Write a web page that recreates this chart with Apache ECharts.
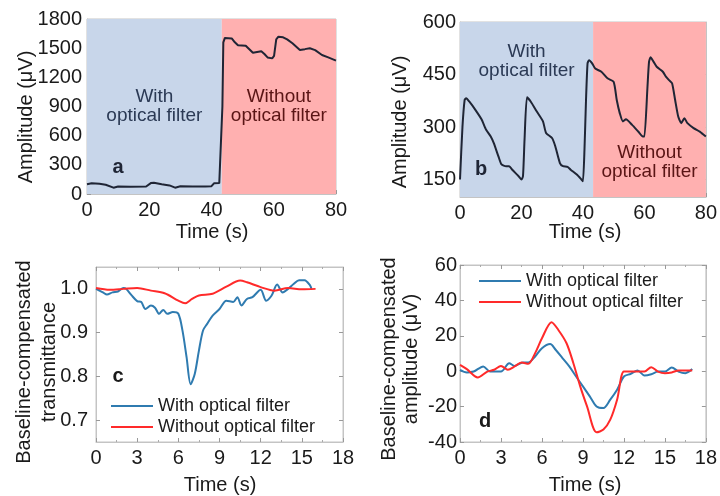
<!DOCTYPE html>
<html><head><meta charset="utf-8">
<script src="https://cdn.jsdelivr.net/npm/echarts@6/dist/echarts.min.js"></script>
<style>html,body{margin:0;padding:0;background:#fff}#c{width:720px;height:496px}</style>
</head><body><div id="c"></div><script>
// ---- data ----
const timeA = [0,1.5,4,6,8.5,10,14,19,20.5,21.5,24,26.5,28.3,30,34,38,40,40.8,42.5,43.1,43.5,43.8,44.3,46.5,47.5,48.5,51,53.3,56,57,58,59.5,60.1,60.8,61.5,63,64.3,66,68.4,70,71.6,73.3,75.5,77.5,80];
const ampA  = [100,110,105,95,65,78,75,77,112,116,100,88,65,79,78,77,80,110,112,120,900,1560,1605,1600,1560,1530,1525,1452,1468,1440,1405,1395,1420,1590,1618,1612,1590,1550,1482,1490,1499,1480,1430,1405,1372];
const timeB = [0,0.8,1.5,2,3,5,7,8.5,10,11,12.5,13.5,15,16,17,19,20,20.5,21,21.8,23,25,27,28,30,31,32.5,33.5,35,36,38,39.5,40,40.5,41,41.5,42,43,44,46,48,50,51,52,53,54,56,58,59.5,60,61,61.5,62,63,64,66,67,68,69,70,71,72,73,74,76,78,80];
const ampB  = [150,300,377,382,373,349,322,292,273,254,216,193,188,188,178,160,150,160,264,385,373,344,316,283,268,245,197,188,186,178,164,150,145,235,377,482,491,482,467,458,439,429,377,339,316,322,306,287,273,273,415,486,499,486,472,458,444,434,425,377,330,311,325,311,297,287,273];
const timeC1 = [0,0.5,0.8,1.2,1.6,2.0,2.2,2.6,3.0,3.3,3.6,4.0,4.3,4.6,4.9,5.2,5.6,6.0,6.3,6.6,6.9,7.2,7.5,7.8,8.1,8.5,9.0,9.5,10.0,10.3,10.6,11.0,11.4,12.0,12.4,12.8,13.2,13.6,14.0,14.4,14.8,15.2,15.6,15.7];
const transC1 = [1.0,0.992,0.987,0.992,0.994,1.002,1.0,0.985,0.972,0.970,0.954,0.962,0.957,0.943,0.952,0.943,0.947,0.943,0.905,0.844,0.782,0.806,0.859,0.905,0.920,0.939,0.954,0.973,0.970,0.981,0.962,0.977,0.981,0.998,0.973,0.985,1.010,0.992,1.0,1.011,1.020,1.020,1.008,1.0];
const timeC2 = [0,1,2,3,4,5,6,6.5,7,7.5,8.5,9.5,10.5,11,12,13,14,15,16];
const transC2 = [1.002,0.998,1.0,1.002,0.996,0.990,0.973,0.967,0.977,0.985,0.989,1.005,1.019,1.015,1.004,0.996,1.002,0.999,1.0];
const timeD1 = [0,0.5,1,1.7,2.2,3.0,3.6,4.0,4.6,5.0,5.5,6.0,6.6,7.0,7.5,8.0,8.5,9.0,9.5,10.0,10.5,11.0,11.5,12.0,12.5,13.0,13.5,14.0,14.5,15.0,15.5,16,16.5,17];
const ampD1 = [0.8,-0.7,-0.2,2.7,-0.2,-0.2,4.5,3.0,4.9,4.9,8.3,13.0,15.3,12.1,7.4,2.7,-3.0,-8.6,-14.2,-19.9,-20.8,-16.1,-10.5,-3.0,-1.5,0.4,-2.4,-1.7,-0.2,-0.2,2.1,-0.2,-1.1,1.2];
const timeD2 = [0,0.5,1.3,2.0,2.5,3.0,3.5,4.0,4.5,5.0,5.5,6.0,6.7,7.2,7.8,8.3,8.8,9.3,10.0,10.5,11.0,11.5,12.0,12.5,13,13.5,14,14.5,15,15.5,16,17];
const ampD2 = [3.6,1.2,-3.5,-0.2,0.8,3.0,0.8,2.7,4.9,4.2,10.2,18.6,27.7,23.3,15.8,4.5,-8.6,-19.9,-34.5,-33.0,-27.4,-16.1,-0.2,-0.2,-0.2,-0.2,2.3,-0.2,-1.1,-0.7,0.4,0.4];
const filterSwitchTime = 43.3;
const ticksB = [150,300,450,600];
const ticksC = [0.7,0.8,0.9,1.0];
const seriesNames = ['With optical filter','Without optical filter'];
const regionWith = 'With\noptical filter';
const regionWithout = 'Without\noptical filter';

const zip = (xs, ys) => xs.map((x, i) => [x, ys[i]]);

// ---- styles ----
const FONT = 'Liberation Sans, Arial, sans-serif';
const TXT = '#1a1a1a';
const FRAME = '#c4c4c4';
const BLUE_BG = '#c8d6ea', RED_BG = '#ffb0b0';
const DARK = '#1f2535', BLUE = '#2f7bb0', RED = '#ff2a2a';
const plain = v => String(Math.round(v * 1000) / 1000);

function xAx(grid, min, max, interval, extra) {
  return Object.assign({
    type: 'value', gridIndex: grid, min, max, interval,
    axisLine: { show: true, onZero: false, lineStyle: { color: FRAME } },
    axisTick: { show: true, inside: true, length: 4, lineStyle: { color: '#999' } },
    minorTick: { show: true, splitNumber: 2, length: 2, lineStyle: { color: '#aaa' } },
    splitLine: { show: false },
    axisLabel: { color: TXT, fontSize: 20, fontFamily: FONT, margin: 6, formatter: plain }
  }, extra || {});
}
function yAx(grid, min, max, interval, extra) {
  return Object.assign({
    type: 'value', gridIndex: grid, min, max, interval,
    axisLine: { show: true, onZero: false, lineStyle: { color: FRAME } },
    axisTick: { show: true, inside: true, length: 4, lineStyle: { color: '#999' } },
    splitLine: { show: false },
    axisLabel: { color: TXT, fontSize: 20, fontFamily: FONT, margin: 5, formatter: plain }
  }, extra || {});
}
function mirrorX(grid, min, max, interval) {
  return xAx(grid, min, max, interval, { position: 'top', axisLabel: { show: false } });
}
function mirrorY(grid, min, max, interval, extra) {
  return yAx(grid, min, max, interval, Object.assign({ position: 'right', axisLabel: { show: false } }, extra || {}));
}

function regionAreas(withLabel, withoutLabel) {
  return {
    silent: true,
    data: [
      [{ xAxis: 0, itemStyle: { color: BLUE_BG }, label: withLabel }, { xAxis: filterSwitchTime }],
      [{ xAxis: filterSwitchTime, itemStyle: { color: RED_BG }, label: withoutLabel }, { xAxis: 80 }]
    ]
  };
}
const regLbl = (text, color, pos, dist) => ({
  show: true, formatter: text, position: pos, distance: dist || 0, color,
  fontSize: 19, fontFamily: FONT, lineHeight: 19, align: 'center'
});
const tickB = { show: true, inside: true, length: 4, lineStyle: { color: '#999' }, customValues: ticksB };
const tickC = { show: true, inside: true, length: 4, lineStyle: { color: '#999' }, customValues: ticksC };

const chart = echarts.init(document.getElementById('c'), null, { renderer: 'canvas' });
chart.setOption({
  backgroundColor: '#fff',
  animation: false,
  grid: [
    { left: 87, top: 19, width: 249, height: 175, show: true, borderColor: FRAME, borderWidth: 1 },
    { left: 460, top: 22, width: 249, height: 175, show: true, borderColor: FRAME, borderWidth: 1 },
    { left: 96, top: 267, width: 247, height: 175, show: true, borderColor: FRAME, borderWidth: 1 },
    { left: 460, top: 265, width: 249, height: 177, show: true, borderColor: FRAME, borderWidth: 1 }
  ],
  xAxis: [
    xAx(0, 0, 80, 20),
    xAx(1, 0, 80, 20),
    xAx(2, 0, 18, 3),
    xAx(3, 0, 18, 3),
    mirrorX(2, 0, 18, 3),
    mirrorX(3, 0, 18, 3)
  ],
  yAxis: [
    yAx(0, 0, 1800, 300),
    yAx(1, 100, 600, null, { axisLabel: { color: TXT, fontSize: 20, fontFamily: FONT, margin: 4, customValues: ticksB, formatter: plain }, axisTick: tickB }),
    yAx(2, 0.65, 1.05, null, { axisLabel: { color: TXT, fontSize: 20, fontFamily: FONT, margin: 8, customValues: ticksC, formatter: v => v.toFixed(1) }, axisTick: tickC }),
    yAx(3, -40, 60, 20, { axisLabel: { color: TXT, fontSize: 20, fontFamily: FONT, margin: 3, formatter: plain } }),
    mirrorY(1, 100, 600, null, { axisTick: tickB }),
    mirrorY(2, 0.65, 1.05, null, { axisTick: tickC }),
    mirrorY(3, -40, 60, 20)
  ],
  legend: [
    { data: seriesNames, orient: 'vertical', left: 106, top: 392, itemWidth: 42, itemHeight: 12, itemGap: 3,
      textStyle: { fontSize: 18, fontFamily: FONT, color: TXT }, icon: 'path://M0,5 L40,5 L40,7 L0,7 Z' },
    { data: seriesNames, orient: 'vertical', left: 474, top: 267, itemWidth: 42, itemHeight: 12, itemGap: 3,
      textStyle: { fontSize: 18, fontFamily: FONT, color: TXT }, icon: 'path://M0,5 L40,5 L40,7 L0,7 Z' }
  ],
  series: [
    { type: 'line', xAxisIndex: 0, yAxisIndex: 0, data: zip(timeA, ampA), symbol: 'none',
      lineStyle: { color: DARK, width: 2 }, z: 3,
      markArea: regionAreas(regLbl(regionWith, '#2b3a55', 'inside'), regLbl(regionWithout, '#5a1515', 'inside')) },
    { type: 'line', xAxisIndex: 1, yAxisIndex: 1, data: zip(timeB, ampB), symbol: 'none', smooth: 0.2,
      lineStyle: { color: DARK, width: 2 }, z: 3,
      markArea: regionAreas(regLbl(regionWith, '#2b3a55', 'insideTop', 20), regLbl(regionWithout, '#5a1515', 'insideBottom', 16)) },
    { name: seriesNames[0], type: 'line', xAxisIndex: 2, yAxisIndex: 2, data: zip(timeC1, transC1), symbol: 'none', smooth: 0.3,
      itemStyle: { color: BLUE }, lineStyle: { color: BLUE, width: 2 } },
    { name: seriesNames[1], type: 'line', xAxisIndex: 2, yAxisIndex: 2, data: zip(timeC2, transC2), symbol: 'none', smooth: 0.3,
      itemStyle: { color: RED }, lineStyle: { color: RED, width: 2 } },
    { name: seriesNames[0], type: 'line', xAxisIndex: 3, yAxisIndex: 3, data: zip(timeD1, ampD1), symbol: 'none', smooth: 0.3,
      itemStyle: { color: BLUE }, lineStyle: { color: BLUE, width: 2 } },
    { name: seriesNames[1], type: 'line', xAxisIndex: 3, yAxisIndex: 3, data: zip(timeD2, ampD2), symbol: 'none', smooth: 0.3,
      itemStyle: { color: RED }, lineStyle: { color: RED, width: 2 } }
  ],
  graphic: [
    { type: 'text', x: 26, y: 117, rotation: Math.PI / 2, style: { text: 'Amplitude (μV)', fontSize: 20, fontFamily: FONT, fill: TXT, align: 'center', verticalAlign: 'middle' } },
    { type: 'text', x: 400, y: 122, rotation: Math.PI / 2, style: { text: 'Amplitude (μV)', fontSize: 20, fontFamily: FONT, fill: TXT, align: 'center', verticalAlign: 'middle' } },
    { type: 'text', x: 37, y: 362, rotation: Math.PI / 2, style: { text: 'Baseline-compensated\ntransmittance', fontSize: 20, lineHeight: 25, fontFamily: FONT, fill: TXT, align: 'center', verticalAlign: 'middle' } },
    { type: 'text', x: 400, y: 359, rotation: Math.PI / 2, style: { text: 'Baseline-compensated\namplitude (μV)', fontSize: 20, lineHeight: 22, fontFamily: FONT, fill: TXT, align: 'center', verticalAlign: 'middle' } },
    { type: 'text', x: 212, y: 232, style: { text: 'Time (s)', fontSize: 20, fontFamily: FONT, fill: TXT, align: 'center', verticalAlign: 'middle' } },
    { type: 'text', x: 585, y: 232, style: { text: 'Time (s)', fontSize: 20, fontFamily: FONT, fill: TXT, align: 'center', verticalAlign: 'middle' } },
    { type: 'text', x: 220, y: 485, style: { text: 'Time (s)', fontSize: 20, fontFamily: FONT, fill: TXT, align: 'center', verticalAlign: 'middle' } },
    { type: 'text', x: 585, y: 485, style: { text: 'Time (s)', fontSize: 20, fontFamily: FONT, fill: TXT, align: 'center', verticalAlign: 'middle' } },
    { type: 'text', x: 118, y: 167, z: 10, style: { text: 'a', fontSize: 20, fontWeight: 'bold', fontFamily: FONT, fill: '#1f2535', align: 'center', verticalAlign: 'middle' } },
    { type: 'text', x: 481, y: 169, z: 10, style: { text: 'b', fontSize: 20, fontWeight: 'bold', fontFamily: FONT, fill: '#1f2535', align: 'center', verticalAlign: 'middle' } },
    { type: 'text', x: 118, y: 376, z: 10, style: { text: 'c', fontSize: 20, fontWeight: 'bold', fontFamily: FONT, fill: TXT, align: 'center', verticalAlign: 'middle' } },
    { type: 'text', x: 485, y: 421, z: 10, style: { text: 'd', fontSize: 20, fontWeight: 'bold', fontFamily: FONT, fill: TXT, align: 'center', verticalAlign: 'middle' } }
  ]
});
</script></body></html>
